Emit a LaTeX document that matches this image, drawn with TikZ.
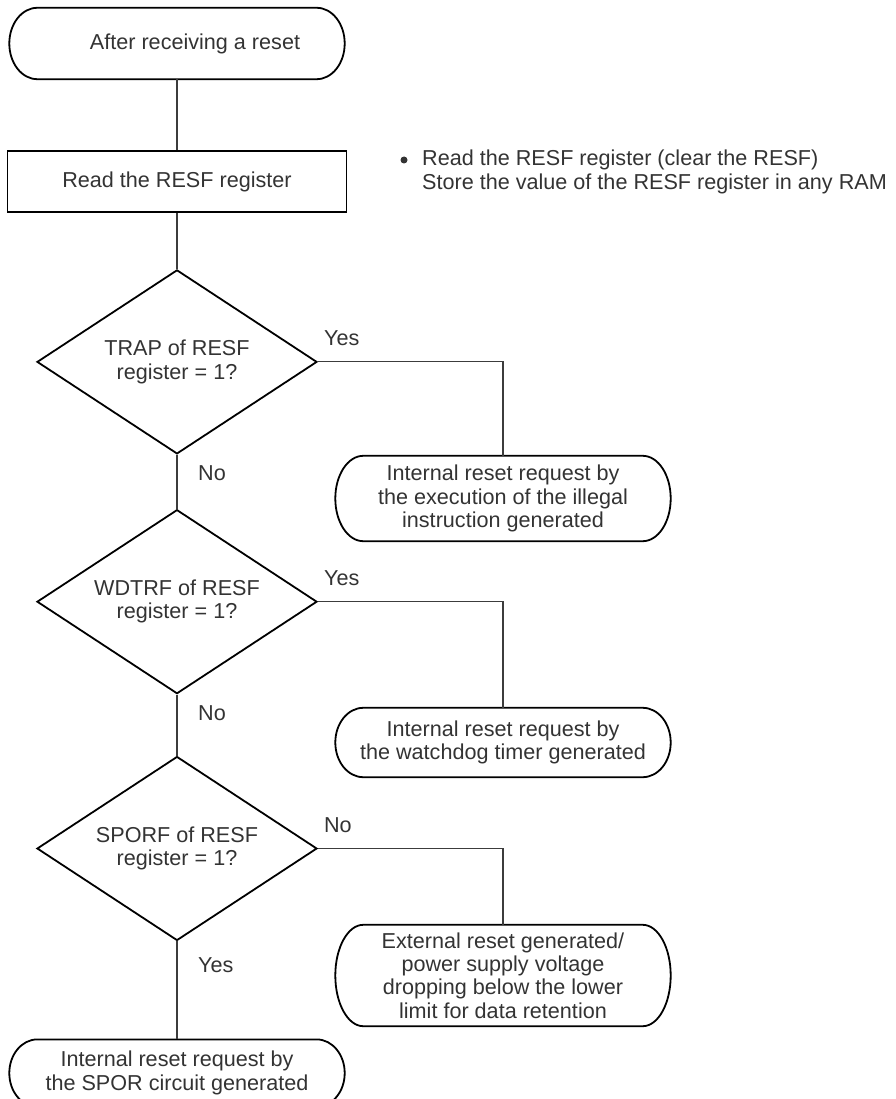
\documentclass[tikz,border=0pt]{standalone}
\usepackage{fontspec}
\setmainfont{Liberation Sans}
\usepackage{xcolor}
\definecolor{inkgray}{RGB}{51, 51, 51}
\definecolor{wiregray}{RGB}{60, 60, 60}
\usetikzlibrary{shapes.geometric,positioning,calc}

\begin{document}
\begin{tikzpicture}[
  x=1pt, y=1pt,
  node distance=56pt,
  every node/.style={font=\fontsize{21.6}{23.4}\selectfont, text=inkgray},
  term/.style={minimum width=335pt, minimum height=69pt, align=center, inner sep=0pt},
  outline/.style={draw=black, line width=1.8pt},
  procbox/.style={outline, minimum width=339pt, minimum height=61pt, inner sep=0pt},
  decide/.style={outline, diamond, aspect=1.52, minimum width=280pt, minimum height=184pt, align=center, inner sep=0pt},
  wire/.style={draw=wiregray, line width=1.1pt},
  lbl/.style={anchor=base west, inner sep=0pt}
]
\useasboundingbox (0,0) rectangle (895,-1099);

% main column
\node[term, minimum height=71pt] (start) at (177,-43.5) {\hspace*{36pt}After receiving a reset};
\node[procbox, below=71pt of start] (readresf) {Read the RESF register};
\node[decide, below=56pt of readresf] (trapq) {TRAP of RESF\\register = 1?};
\node[decide, below=54pt of trapq] (wdtq) {WDTRF of RESF\\register = 1?};
\node[decide, below=61pt of wdtq] (sporq) {SPORF of RESF\\register = 1?};
\node[term, minimum height=67pt, below=98pt of sporq] (sporbox) {Internal reset request by\\the SPOR circuit generated};

% side branch results
\node[term, minimum height=85pt] (trapbox) at (503,-498.5) {Internal reset request by\\the execution of the illegal\\instruction generated};
\node[term] (wdtbox) at (503,-742.5) {Internal reset request by\\the watchdog timer generated};
\node[term, minimum height=101pt] (extbox) at (503,-975.5) {External reset generated/\\power supply voltage\\dropping below the lower\\limit for data retention};

% terminal outlines with elliptic ends
\foreach \nd in {start,sporbox,trapbox,wdtbox,extbox}
  \draw[outline] let \p1=(\nd.north west), \p2=(\nd.south east), \n1={(\y1-\y2)/2} in
    ($(\p1)+(28pt,0pt)$) -- ($(\x2,\y1)+(-28pt,0pt)$) arc[start angle=90, end angle=-90, x radius=28pt, y radius=\n1]
    -- ($(\x1,\y2)+(28pt,0pt)$) arc[start angle=270, end angle=90, x radius=28pt, y radius=\n1] -- cycle;

% note beside the register read
\node[circle, fill=inkgray, inner sep=0pt, minimum size=7pt] (bullet) at (404,-160) {};
\node[anchor=north west, align=left, inner sep=0pt] (note) at (422,-150) {Read the RESF register (clear the RESF)\\Store the value of the RESF register in any RAM};

\draw[wire] (start) -- (readresf);
\draw[wire] (readresf) -- (trapq);
\draw[wire] (trapq) -- (wdtq);
\draw[wire] (wdtq) -- (sporq);
\draw[wire] (sporq) -- (sporbox);
\draw[wire] (trapq.east) -| (trapbox.north);
\draw[wire] (wdtq.east) -| (wdtbox.north);
\draw[wire] (sporq.east) -| (extbox.north);

% branch labels
\node[lbl] (trapyes) at ([shift={(6,16)}]trapq.east) {Yes};
\node[lbl] (trapno) at ([shift={(21,-26)}]trapq.south) {No};
\node[lbl] (wdtyes) at ([shift={(6,16)}]wdtq.east) {Yes};
\node[lbl] (wdtno) at ([shift={(21,-26)}]wdtq.south) {No};
\node[lbl] (sporno) at ([shift={(6,16)}]sporq.east) {No};
\node[lbl] (sporyes) at ([shift={(21,-31)}]sporq.south) {Yes};
\end{tikzpicture}
\end{document}
